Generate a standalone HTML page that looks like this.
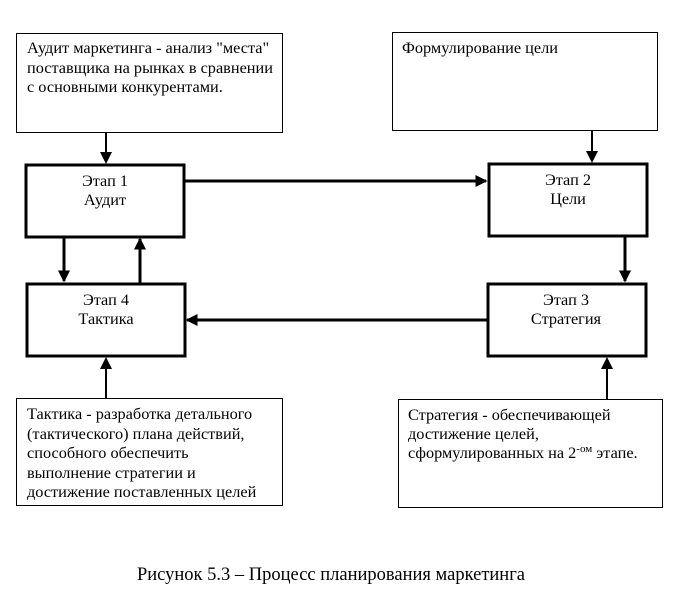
<!DOCTYPE html>
<html><head><meta charset="utf-8"><style>
body{margin:0;background:#fff;}
svg text{font-family:"Liberation Serif",serif;font-size:16.3px;fill:#000;}
</style></head><body>
<svg width="680" height="597" viewBox="0 0 680 597" xmlns="http://www.w3.org/2000/svg">
<defs>
<marker id="a" markerWidth="4" markerHeight="4" refX="3.5" refY="2" orient="auto" markerUnits="strokeWidth"><path d="M0,0 L4,2 L0,4z" fill="#000"/></marker>
<marker id="b" markerWidth="6" markerHeight="6" refX="5" refY="3" orient="auto" markerUnits="strokeWidth"><path d="M0,0 L6,3 L0,6z" fill="#000"/></marker>
</defs>
<g fill="none" stroke="#000">
<rect x="16.5" y="33.5" width="266" height="99" stroke-width="1"/>
<rect x="392.5" y="32.5" width="265" height="98" stroke-width="1"/>
<rect x="16.5" y="398.5" width="266" height="107" stroke-width="1"/>
<rect x="398.5" y="399.5" width="264" height="108" stroke-width="1"/>
<rect x="26" y="165" width="158" height="72" stroke-width="3"/>
<rect x="489" y="164" width="158" height="72" stroke-width="3"/>
<rect x="27" y="284" width="158" height="72" stroke-width="3"/>
<rect x="488" y="284" width="158" height="72" stroke-width="3"/>
<line x1="106" y1="133" x2="106" y2="162" stroke-width="2" marker-end="url(#b)"/>
<line x1="592" y1="131" x2="592" y2="161" stroke-width="2" marker-end="url(#b)"/>
<line x1="185" y1="181" x2="486" y2="181" stroke-width="3" marker-end="url(#a)"/>
<line x1="625" y1="237" x2="625" y2="281" stroke-width="3" marker-end="url(#a)"/>
<line x1="487" y1="320" x2="187" y2="320" stroke-width="3" marker-end="url(#a)"/>
<line x1="64" y1="237" x2="64" y2="281" stroke-width="3" marker-end="url(#a)"/>
<line x1="140" y1="283" x2="140" y2="239" stroke-width="3" marker-end="url(#a)"/>
<line x1="106" y1="398" x2="106" y2="359" stroke-width="2" marker-end="url(#b)"/>
<line x1="607" y1="399" x2="607" y2="359" stroke-width="2" marker-end="url(#b)"/>
</g>
<text x="27" y="53">Аудит маркетинга - анализ "места"</text>
<text x="27" y="73">поставщика на рынках в сравнении</text>
<text x="27" y="92">с основными конкурентами.</text>
<text x="402" y="53">Формулирование цели</text>
<text x="105" y="186" text-anchor="middle">Этап 1</text>
<text x="105" y="205" text-anchor="middle">Аудит</text>
<text x="568" y="185" text-anchor="middle">Этап 2</text>
<text x="568" y="204" text-anchor="middle">Цели</text>
<text x="106" y="305" text-anchor="middle">Этап 4</text>
<text x="106" y="324" text-anchor="middle">Тактика</text>
<text x="566" y="305" text-anchor="middle">Этап 3</text>
<text x="566" y="324" text-anchor="middle">Стратегия</text>
<text x="27" y="419">Тактика - разработка детального</text>
<text x="27" y="439">(тактического) плана действий,</text>
<text x="27" y="458">способного обеспечить</text>
<text x="27" y="478">выполнение стратегии и</text>
<text x="27" y="497">достижение поставленных целей</text>
<text x="408" y="420">Стратегия - обеспечивающей</text>
<text x="408" y="439">достижение целей,</text>
<text x="408" y="458">сформулированных на 2<tspan dy="-6" font-size="11">-ом</tspan><tspan dy="6"> этапе.</tspan></text>
<text x="331" y="580" text-anchor="middle" style="font-size:18.5px">Рисунок 5.3 – Процесс планирования маркетинга</text>
</svg>
</body></html>
